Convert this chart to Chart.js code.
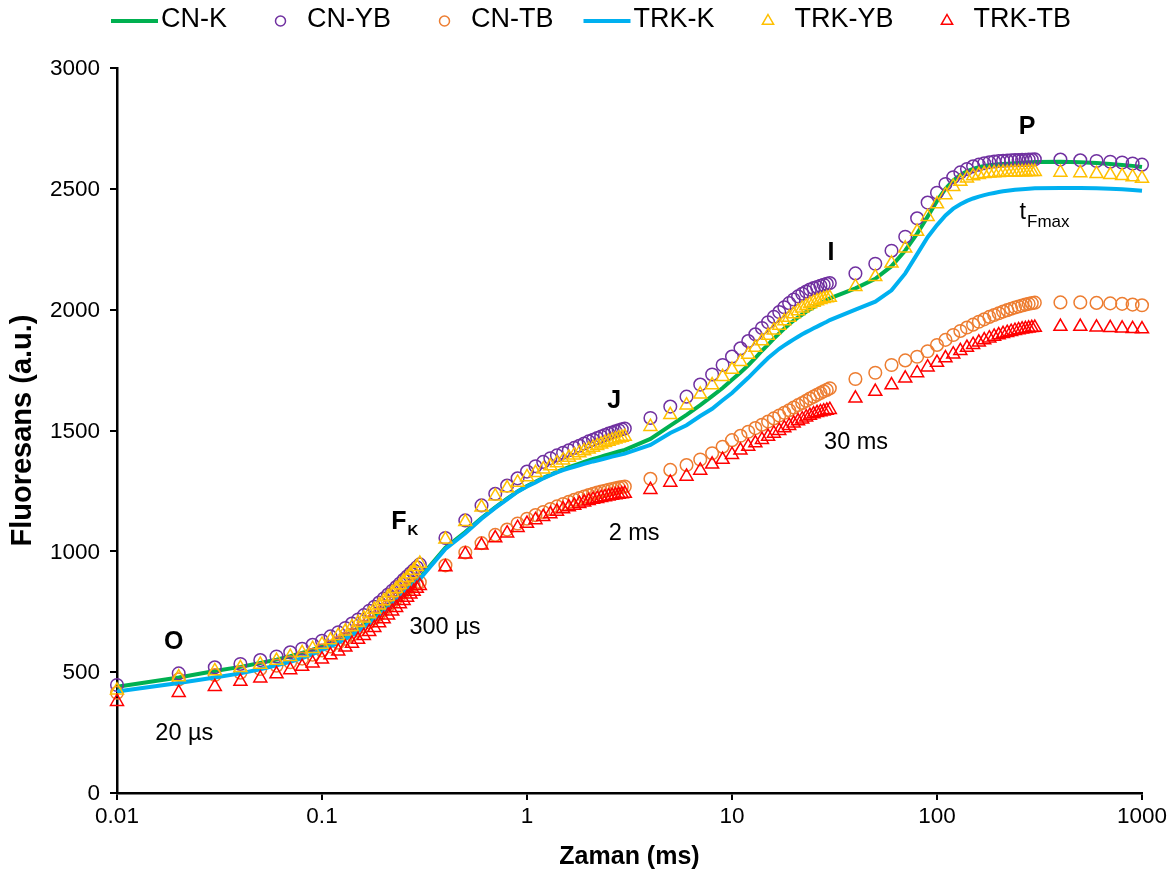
<!DOCTYPE html>
<html>
<head>
<meta charset="utf-8">
<title>OJIP</title>
<script src="https://cdn.jsdelivr.net/npm/chart.js@4/dist/chart.umd.min.js"></script>
<style>
  body { margin: 0; background: #fff; }
  canvas { display: block; }
</style>
</head>
<body>
<canvas id="ojip" width="1175" height="874"></canvas>
<script>
// time axis (ms)
const zaman = [
  0.01, 0.02, 0.03, 0.04, 0.05, 0.06, 0.07, 0.08, 0.09, 0.1,
  0.11, 0.12, 0.13, 0.14, 0.15, 0.16, 0.17, 0.18, 0.19, 0.2,
  0.21, 0.22, 0.23, 0.24, 0.25, 0.26, 0.27, 0.28, 0.29, 0.3,
  0.4, 0.5, 0.6, 0.7, 0.8, 0.9, 1, 1.1, 1.2, 1.3,
  1.4, 1.5, 1.6, 1.7, 1.8, 1.9, 2, 2.1, 2.2, 2.3,
  2.4, 2.5, 2.6, 2.7, 2.8, 2.9, 3,
  4, 5, 6, 7, 8, 9, 10, 11, 12, 13,
  14, 15, 16, 17, 18, 19, 20, 21, 22, 23,
  24, 25, 26, 27, 28, 29, 30,
  40, 50, 60, 70, 80, 90, 100, 110, 120, 130,
  140, 150, 160, 170, 180, 190, 200, 210, 220, 230,
  240, 250, 260, 270, 280, 290, 300,
  400, 500, 600, 700, 800, 900, 1000
];

const cnK = [
  440, 478, 505, 522, 538, 552, 566, 580, 593, 606,
  620, 635, 651, 667, 683, 699, 715, 731, 747, 763,
  778, 793, 808, 822, 836, 849, 861, 872, 882, 891,
  1015, 1080, 1138, 1182, 1218, 1248, 1270, 1288, 1304, 1317,
  1329, 1339, 1348, 1356, 1363, 1370, 1376, 1382, 1387, 1392,
  1397, 1401, 1405, 1409, 1413, 1417, 1420,
  1465, 1520, 1565, 1605, 1642, 1676, 1710, 1740, 1770, 1800,
  1830, 1855, 1880, 1902, 1922, 1940, 1955, 1968, 1980, 1991,
  2001, 2010, 2018, 2026, 2033, 2040, 2047,
  2088, 2128, 2180, 2245, 2315, 2385, 2450, 2500, 2535, 2558,
  2573, 2583, 2590, 2595, 2598, 2600, 2602, 2603, 2604, 2605,
  2606, 2607, 2608, 2609, 2610, 2610, 2611,
  2612, 2610, 2607, 2603, 2599, 2595, 2590
];

const cnYB = [
  447, 495, 520, 534, 550, 565, 582, 597, 613, 630,
  648, 665, 683, 701, 718, 736, 754, 771, 788, 805,
  821, 837, 852, 867, 882, 896, 909, 922, 934, 946,
  1055, 1128, 1190, 1238, 1272, 1302, 1330, 1352, 1370, 1385,
  1397, 1408, 1418, 1428, 1437, 1446, 1455, 1462, 1469, 1475,
  1481, 1487, 1492, 1497, 1501, 1505, 1508,
  1552, 1599, 1640, 1690, 1732, 1771, 1806, 1840, 1870, 1898,
  1924, 1948, 1970, 1990, 2010, 2027, 2042, 2055, 2066, 2075,
  2083, 2089, 2094, 2099, 2103, 2107, 2110,
  2150, 2190, 2244, 2302, 2378, 2443, 2484, 2520, 2548, 2568,
  2582, 2593, 2600, 2606, 2610, 2613, 2615, 2616, 2617, 2618,
  2619, 2619, 2620, 2620, 2621, 2621, 2622,
  2621, 2618, 2615, 2612, 2609, 2605, 2600
];

const cnTB = [
  415, 470, 488, 498, 513, 527, 541, 556, 572, 590,
  606, 622, 638, 655, 672, 689, 706, 723, 740, 757,
  773, 789, 804, 818, 831, 843, 853, 861, 867, 872,
  942, 995, 1034, 1068, 1090, 1115, 1135, 1150, 1163, 1175,
  1186, 1196, 1205, 1213, 1220, 1227, 1233, 1238, 1243, 1247,
  1251, 1255, 1258, 1261, 1264, 1266, 1268,
  1300, 1337, 1357, 1380, 1406, 1433, 1460, 1478, 1495, 1510,
  1524, 1537, 1550, 1562, 1573, 1584, 1595, 1605, 1614, 1623,
  1632, 1640, 1648, 1655, 1662, 1668, 1675,
  1713, 1739, 1771, 1790, 1805, 1828, 1854, 1875, 1895, 1912,
  1926, 1938, 1950, 1960, 1970, 1978, 1985, 1992, 1998, 2004,
  2009, 2013, 2017, 2021, 2024, 2027, 2029,
  2030, 2030, 2028, 2026, 2024, 2021, 2018
];

const trkK = [
  420, 455, 478, 495, 512, 528, 543, 558, 575, 592,
  607, 622, 638, 654, 670, 686, 702, 718, 734, 750,
  766, 781, 796, 811, 825, 839, 852, 864, 875, 885,
  1010, 1075, 1135, 1180, 1215, 1247, 1268, 1285, 1302, 1315,
  1327, 1336, 1343, 1350, 1356, 1362, 1367, 1372, 1376, 1380,
  1384, 1388, 1392, 1395, 1398, 1401, 1404,
  1440, 1490, 1522, 1560, 1590, 1625, 1655, 1688, 1718, 1748,
  1775, 1800, 1820, 1838, 1852, 1865, 1877, 1888, 1898, 1907,
  1915, 1923, 1930, 1937, 1944, 1950, 1957,
  2000, 2033, 2080, 2150, 2230, 2300, 2350, 2390, 2418, 2436,
  2450, 2460, 2468, 2474, 2479, 2483, 2487, 2490, 2492, 2494,
  2496, 2497, 2498, 2499, 2500, 2501, 2502,
  2503, 2503, 2502, 2500, 2498, 2495, 2492
];

const trkYB = [
  425, 480, 505, 518, 532, 548, 564, 580, 597, 615,
  633, 651, 669, 687, 705, 723, 741, 759, 777, 795,
  812, 829, 845, 861, 876, 891, 906, 921, 936, 950,
  1050, 1122, 1182, 1228, 1262, 1285, 1308, 1325, 1340, 1353,
  1366, 1377, 1388, 1398, 1407, 1415, 1422, 1430, 1437, 1443,
  1449, 1455, 1460, 1464, 1468, 1471, 1475,
  1516, 1565, 1605, 1650, 1688, 1722, 1752, 1785, 1815, 1843,
  1870, 1893, 1915, 1935, 1953, 1968, 1982, 1995, 2006, 2015,
  2023, 2030, 2036, 2041, 2045, 2048, 2050,
  2095, 2136, 2192, 2254, 2323, 2385, 2437, 2475, 2509, 2530,
  2544, 2553, 2558, 2562, 2564, 2566, 2567, 2568, 2568, 2569,
  2569, 2570, 2570, 2570, 2571, 2571, 2571,
  2568, 2566, 2562, 2558, 2554, 2549, 2543
];

const trkTB = [
  378, 415, 440, 461, 475, 492, 509, 523, 537, 553,
  571, 587, 603, 619, 635, 651, 667, 684, 703, 720,
  736, 752, 767, 782, 796, 809, 822, 834, 846, 858,
  935, 988, 1025, 1055, 1075, 1098, 1115, 1130, 1143, 1155,
  1165, 1175, 1183, 1190, 1197, 1203, 1209, 1214, 1218, 1222,
  1225, 1228, 1231, 1233, 1235, 1237, 1239,
  1255, 1285, 1310, 1335, 1360, 1380, 1400, 1418, 1434, 1448,
  1462, 1475, 1488, 1499, 1510, 1520, 1530, 1539, 1547, 1555,
  1562, 1568, 1573, 1577, 1580, 1583, 1586,
  1633, 1661, 1688, 1716, 1738, 1762, 1781, 1800, 1816, 1830,
  1843, 1855, 1865, 1874, 1882, 1889, 1895, 1900, 1905, 1909,
  1913, 1916, 1919, 1921, 1923, 1925, 1926,
  1930, 1930, 1927, 1925, 1923, 1921, 1920
];

const xTickValues = [0.01, 0.1, 1, 10, 100, 1000];

// phase labels, placed in data space (time ms, fluorescence)
const phaseLabels = [
  { text: 'O', t: 0.0189, v: 625, bold: true },
  { text: 'F', sub: 'K', t: 0.237, v: 1121, bold: true },
  { text: 'J', t: 2.66, v: 1622, bold: true },
  { text: 'I', t: 30.4, v: 2235, bold: true },
  { text: 'P', t: 275, v: 2756, bold: true },
  { text: 't', sub: 'Fmax', t: 262, v: 2400 },
  { text: '20 µs', t: 0.0213, v: 248 },
  { text: '300 µs', t: 0.398, v: 683 },
  { text: '2 ms', t: 3.33, v: 1072 },
  { text: '30 ms', t: 40.3, v: 1452 }
];

const FONT = '"Liberation Sans", Arial, sans-serif';

const series = [
  { label: 'CN-K', values: cnK, color: '#00B050', kind: 'line' },
  { label: 'CN-YB', values: cnYB, color: '#7030A0', kind: 'circle' },
  { label: 'CN-TB', values: cnTB, color: '#ED7D31', kind: 'circle' },
  { label: 'TRK-K', values: trkK, color: '#00B0F0', kind: 'line' },
  { label: 'TRK-YB', values: trkYB, color: '#FFC000', kind: 'triangle' },
  { label: 'TRK-TB', values: trkTB, color: '#FF0000', kind: 'triangle' }
];

const datasets = series.map((s, i) => {
  const ds = {
    label: s.label,
    data: zaman.map((t, k) => ({ x: t, y: s.values[k] })),
    order: series.length - i,  // later series drawn on top
    clip: false
  };
  if (s.kind === 'line') {
    Object.assign(ds, {
      showLine: true,
      borderColor: s.color,
      borderWidth: 4,
      tension: 0,
      pointRadius: 0
    });
  } else {
    Object.assign(ds, {
      showLine: false,
      pointStyle: s.kind,
      pointRadius: s.kind === 'circle' ? 6.3 : 7.5,
      pointBorderWidth: 1.5,
      pointBorderColor: s.color,
      pointBackgroundColor: 'rgba(0,0,0,0)'
    });
  }
  return ds;
});

function drawText(ctx, str, x, y, font, opts = {}) {
  ctx.save();
  ctx.font = font;
  ctx.fillStyle = '#000';
  ctx.textAlign = opts.align || 'center';
  ctx.textBaseline = opts.baseline || 'middle';
  ctx.translate(x, y);
  if (opts.rotate) ctx.rotate(opts.rotate);
  ctx.fillText(str, 0, 0);
  ctx.restore();
}

const textPlugin = {
  id: 'ojipText',
  afterDraw(chart) {
    const ctx = chart.ctx;
    const xs = chart.scales.x;
    const ys = chart.scales.y;

    // tick labels
    const tickFont = '22.5px ' + FONT;
    ys.ticks.forEach(tk => {
      drawText(ctx, String(tk.value), xs.left - 17, ys.getPixelForValue(tk.value) + 1, tickFont,
        { align: 'right' });
    });
    xs.ticks.forEach(tk => {
      drawText(ctx, String(tk.value), xs.getPixelForValue(tk.value), ys.bottom + 24, tickFont);
    });

    // axis titles
    drawText(ctx, 'Zaman (ms)', (xs.left + xs.right) / 2, ys.bottom + 64, 'bold 25px ' + FONT);
    drawText(ctx, 'Fluoresans (a.u.)', 23, (ys.top + ys.bottom) / 2, 'bold 29px ' + FONT,
      { rotate: -Math.PI / 2 });

    // phase labels
    phaseLabels.forEach(p => {
      const px = xs.getPixelForValue(p.t);
      const py = ys.getPixelForValue(p.v);
      const font = (p.bold ? 'bold 25px ' : '23.5px ') + FONT;
      drawText(ctx, p.text, px, py, font);
      if (p.sub) {
        ctx.save();
        ctx.font = font;
        const w = ctx.measureText(p.text).width;
        ctx.restore();
        const subFont = (p.bold ? 'bold 15px ' : '17px ') + FONT;
        drawText(ctx, p.sub, px + w / 2 + 1, py + 9, subFont, { align: 'left' });
      }
    });

    // legend across the top
    const legendFont = '27px ' + FONT;
    ctx.save();
    ctx.font = legendFont;
    const boxW = 47, textGap = 50, itemGap = 30;
    const widths = series.map(s => ctx.measureText(s.label).width);
    ctx.restore();
    const total = widths.reduce((a, w) => a + textGap + w, 0) + itemGap * (series.length - 1);
    let lx = 591 - total / 2;
    const ly = 20;
    series.forEach((s, i) => {
      ctx.save();
      ctx.strokeStyle = s.color;
      if (s.kind === 'line') {
        ctx.lineWidth = 4;
        ctx.beginPath();
        ctx.moveTo(lx, ly + 1);
        ctx.lineTo(lx + boxW, ly + 1);
        ctx.stroke();
      } else {
        ctx.lineWidth = 1.5;
        ctx.fillStyle = 'rgba(0,0,0,0)';
        Chart.helpers.drawPoint(ctx, {
          pointStyle: s.kind,
          radius: s.kind === 'circle' ? 5 : 6.5,
          borderWidth: 1.5,
          rotation: 0
        }, lx + boxW / 2, ly + 1);
      }
      ctx.restore();
      drawText(ctx, s.label, lx + textGap, ly, legendFont, { align: 'left' });
      lx += textGap + widths[i] + itemGap;
    });
  }
};

const axisGrid = {
  drawOnChartArea: false,
  drawTicks: true,
  tickLength: 7,
  color: '#000',
  lineWidth: 2
};

new Chart(document.getElementById('ojip'), {
  type: 'scatter',
  data: { datasets: datasets },
  options: {
    responsive: false,
    animation: false,
    layout: { padding: { top: 68, right: 33, left: 0, bottom: 0 } },
    plugins: {
      legend: { display: false },
      tooltip: { enabled: false }
    },
    scales: {
      x: {
        type: 'logarithmic',
        min: 0.01,
        max: 1000,
        afterBuildTicks: scale => {
          scale.ticks = xTickValues.map(v => ({ value: v }));
        },
        afterFit: scale => { scale.height = 81; },
        ticks: { display: false },
        grid: axisGrid,
        border: { color: '#000', width: 2.5 }
      },
      y: {
        min: 0,
        max: 3000,
        ticks: { display: false, stepSize: 500 },
        afterFit: scale => { scale.width = 117; },
        grid: axisGrid,
        border: { color: '#000', width: 2.5 }
      }
    }
  },
  plugins: [textPlugin]
});
</script>
</body>
</html>
